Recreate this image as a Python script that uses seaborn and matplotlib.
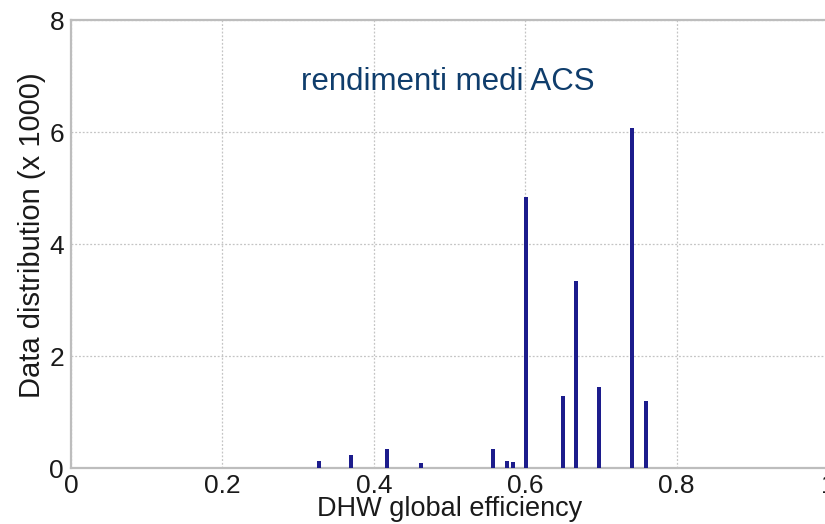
import numpy as np
import pandas as pd
import matplotlib
matplotlib.use("Agg")
import matplotlib.pyplot as plt
import seaborn as sns

# Data
efficiency = [0.327, 0.370, 0.418, 0.462, 0.557, 0.5755, 0.584, 0.601,
              0.6495, 0.667, 0.6975, 0.7415, 0.759]
counts_k = [0.13, 0.23, 0.34, 0.09, 0.34, 0.13, 0.10, 4.84,
            1.29, 3.34, 1.44, 6.08, 1.20]
x_ticks = [0, 0.2, 0.4, 0.6, 0.8, 1]
x_tick_labels = ["0", "0.2", "0.4", "0.6", "0.8", "1"]
y_ticks = [0, 2, 4, 6, 8]
y_tick_labels = ["0", "2", "4", "6", "8"]
title_text = "rendimenti medi ACS"
x_label = "DHW global efficiency"
y_label = "Data distribution (x 1000)"

sns.set_theme(style="white")
plt.rcParams['font.family'] = ['Liberation Sans', 'DejaVu Sans']

df = pd.DataFrame({"eff": efficiency, "cnt": counts_k})

fig = plt.figure(figsize=(8.25, 5.24), dpi=100)
ax = fig.add_axes([71 / 825, 56 / 524, 757 / 825, 448 / 524])

bar_w = 0.0052
min_gap = np.min(np.diff(np.sort(np.unique(efficiency))))
sns.barplot(data=df, x="eff", y="cnt", native_scale=True, ax=ax,
            color="#1c1c8c", saturation=1, linewidth=0,
            width=bar_w / min_gap, errorbar=None, zorder=3)

ax.set_xlim(0, 1)
ax.set_ylim(0, 8)
ax.set_xticks(x_ticks)
ax.set_xticklabels(x_tick_labels)
ax.set_yticks(y_ticks)
ax.set_yticklabels(y_tick_labels)
ax.tick_params(axis="both", length=0, labelsize=19, colors="#1a1a1a")
ax.tick_params(axis="x", pad=4)
ax.tick_params(axis="y", pad=5)

ax.grid(True, linestyle=(0, (1.5, 1.5)), color="#c4c4c4", linewidth=0.9)
ax.set_axisbelow(True)
for side in ["left", "bottom", "top", "right"]:
    ax.spines[side].set_color("#bdbdbd")
    ax.spines[side].set_linewidth(1.6)

ax.set_xlabel(x_label, fontsize=19.5, color="#1a1a1a")
ax.xaxis.set_label_coords(0.5, -0.107)
ax.xaxis.label.set_va("baseline")
ax.set_ylabel(y_label, fontsize=21, color="#1a1a1a")
ax.yaxis.set_label_coords(-0.033, 0.52)

ax.text(0.498, 0.862, title_text, transform=ax.transAxes, ha="center",
        va="center", fontsize=22.5, color="#0f3d6c")

fig.savefig("out.png", dpi=100)
